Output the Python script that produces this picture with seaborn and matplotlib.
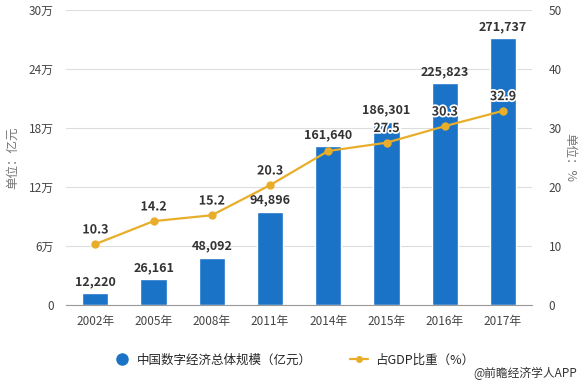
import pandas as pd
import matplotlib.pyplot as plt
import matplotlib.patheffects as pe
from matplotlib.lines import Line2D
import seaborn as sns

years = ["2002年", "2005年", "2008年", "2011年", "2014年", "2015年", "2016年", "2017年"]
scale = [12220, 26161, 48092, 94896, 161640, 186301, 225823, 271737]
share = [10.3, 14.2, 15.2, 20.3, 26.1, 27.5, 30.3, 32.9]
share_labels = ["10.3", "14.2", "15.2", "20.3", "", "27.5", "30.3", "32.9"]
left_ticks = ["0", "6万", "12万", "18万", "24万", "30万"]

blue = "#1a73c6"
gold = "#e8ae2a"

sns.set_style("white")
plt.rcParams['font.family'] = ['Noto Sans CJK SC', 'DejaVu Sans']

df = pd.DataFrame({"year": years, "scale": scale, "share": share})

fig = plt.figure(figsize=(5.86, 3.84), dpi=100)
ax = fig.add_axes([0.113, 0.206, 0.795, 0.768])
ax2 = ax.twinx()

sns.barplot(data=df, x="year", y="scale", color=blue, width=0.45,
            saturation=1, ax=ax, zorder=2)
for i, v in enumerate(scale):
    ax.text(i, v + 5000, f"{v:,}", ha="center", va="bottom", fontsize=9,
            fontweight="bold", color="#333333", zorder=5)

ax.set_ylim(0, 300000)
ax.set_yticks(range(0, 300001, 60000))
ax.set_yticklabels(left_ticks, fontsize=8.5, color="#444444")
ax.set_xlim(-0.5, 7.5)
ax.set_xlabel("")
ax.set_ylabel("单位：亿元", fontsize=9, color="#777777", va="center")
ax.yaxis.set_label_coords(-0.115, 0.5)
ax.tick_params(axis="x", labelsize=8.5, colors="#444444", length=4, color="#999999")
ax.tick_params(axis="y", length=0, pad=9)
ax.grid(axis="y", color="#dddddd", linewidth=0.8, zorder=0)
for s in ["top", "left", "right"]:
    ax.spines[s].set_visible(False)
ax.spines["bottom"].set_color("#999999")

sns.lineplot(x=list(range(len(years))), y=share, color=gold, linewidth=1.6,
             marker="o", markersize=6, markeredgewidth=0, ax=ax2, zorder=4)
for i, (v, lab) in enumerate(zip(share, share_labels)):
    if lab:
        ax2.text(i, v + 1.3, lab, ha="center", va="bottom", fontsize=9,
                 fontweight="bold", color="#333333", zorder=6,
                 path_effects=[pe.withStroke(linewidth=2.5, foreground="white")])
ax2.set_ylim(0, 50)
ax2.set_yticks(range(0, 51, 10))
ax2.tick_params(axis="y", length=0, pad=12, labelsize=8.5, labelcolor="#444444")
ax2.set_ylabel("单位：%", fontsize=9, color="#777777", rotation=270, va="center")
ax2.yaxis.set_label_coords(1.08, 0.5)
for s in ax2.spines.values():
    s.set_visible(False)
ax.set_zorder(0)
ax2.set_zorder(1)
ax2.patch.set_visible(False)

handles = [
    Line2D([0], [0], marker="o", color="none", markerfacecolor=blue,
           markeredgewidth=0, markersize=9),
    Line2D([0], [0], marker="o", color=gold, markerfacecolor=gold,
           markeredgewidth=0, markersize=5, linewidth=1.6),
]
fig.legend(handles, ["中国数字经济总体规模（亿元）", "占GDP比重（%）"],
           loc="center", bbox_to_anchor=(0.5, 0.063), ncol=2, frameon=False,
           fontsize=9, handlelength=1.5, columnspacing=3, handletextpad=0.5)

fig.text(0.985, 0.028, "@前瞻经济学人APP", ha="right", va="center",
         fontsize=8.5, color="#333333")

fig.savefig("out.png", dpi=100)
